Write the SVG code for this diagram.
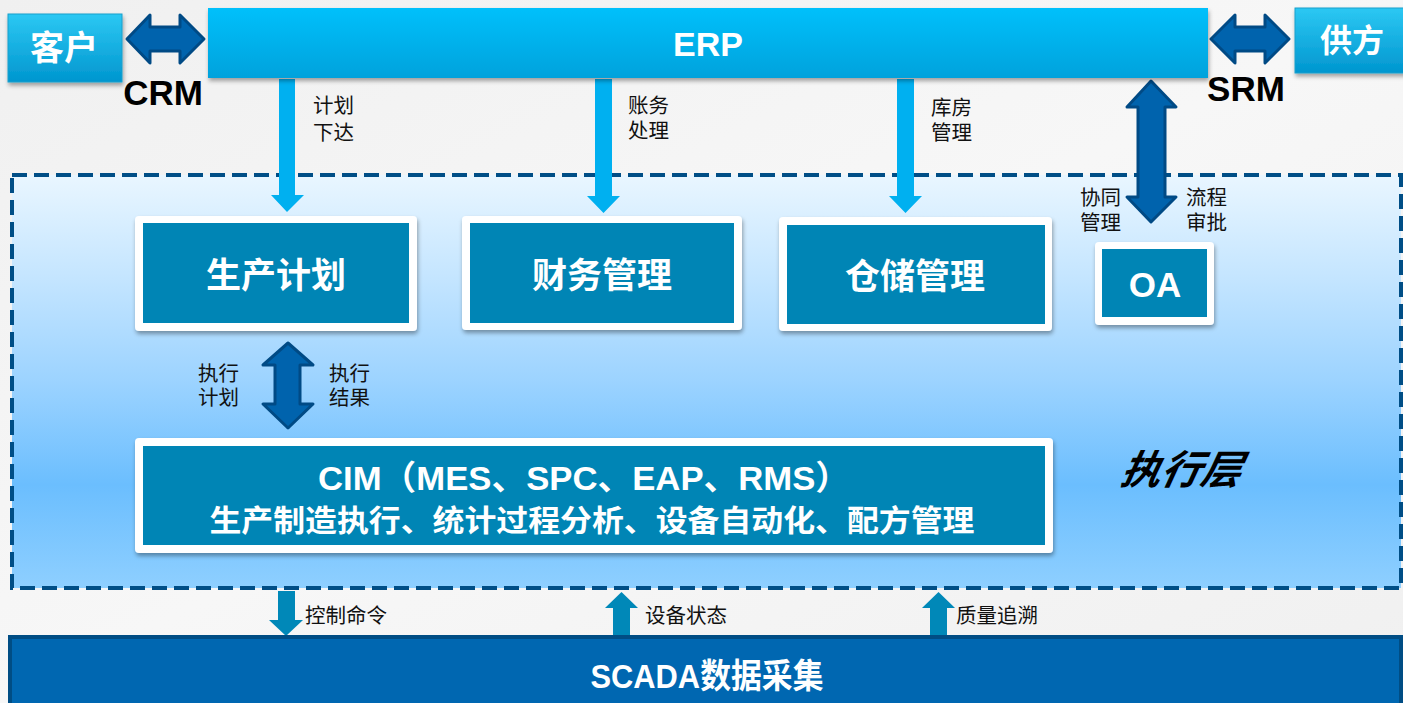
<svg xmlns="http://www.w3.org/2000/svg" width="1403" height="703" viewBox="0 0 1403 703">
<defs>
<linearGradient id="bg" x1="0" y1="0" x2="1" y2="1">
<stop offset="0" stop-color="#f0f0f0"/><stop offset="0.5" stop-color="#f7f7f7"/><stop offset="1" stop-color="#f0f0f0"/>
</linearGradient>
<linearGradient id="erp" x1="0" y1="0" x2="0" y2="1">
<stop offset="0" stop-color="#00c0fb"/><stop offset="1" stop-color="#00a2dc"/>
</linearGradient>
<linearGradient id="side" x1="0" y1="0" x2="0" y2="1">
<stop offset="0" stop-color="#2cc8f3"/><stop offset="1" stop-color="#0096cf"/>
</linearGradient>
<linearGradient id="layer" x1="0" y1="0" x2="0" y2="1">
<stop offset="0" stop-color="#e9f6ff"/><stop offset="0.25" stop-color="#c4e5ff"/><stop offset="0.5" stop-color="#9cd3ff"/><stop offset="0.75" stop-color="#6bbefe"/><stop offset="1" stop-color="#8ecfff"/>
</linearGradient>
<filter id="sh" x="-10%" y="-10%" width="120%" height="130%">
<feDropShadow dx="1" dy="3" stdDeviation="2" flood-color="#000" flood-opacity="0.35"/>
</filter>
</defs>
<style>
.lbl{font-family:"Liberation Sans","Noto Sans CJK SC",sans-serif;font-size:20.5px;fill:#111}
.mod{font-family:"Liberation Sans","Noto Sans CJK SC",sans-serif;font-weight:bold;fill:#fff;text-anchor:middle}
.big{font-family:"Liberation Sans","Noto Sans CJK SC",sans-serif;font-weight:bold;fill:#000;text-anchor:middle;font-size:35px}
.outer{fill:#fff}
.inner{fill:#0085b5}
.dbl{fill:#0063ad;stroke:#004a85;stroke-width:3;stroke-linejoin:round}
.down{fill:#00b0f0}
.bot{fill:#0088b8}
</style>
<rect width="1403" height="703" fill="url(#bg)"/>

<g id="layer-box">
<rect x="12" y="175" width="1389" height="413" fill="url(#layer)" stroke="#004e86" stroke-width="4" stroke-dasharray="15 7"/>
<text x="1182" y="484" font-family="'Noto Sans CJK SC',sans-serif" font-size="40" font-style="italic" font-weight="bold" fill="#000" text-anchor="middle" transform="skewX(-12)" transform-origin="1182 470">执行层</text>
</g>

<g id="connectors">
<polygon class="down" points="279,79 295,79 295,195 304,195 287,212 271,195 279,195"/>
<polygon class="down" points="595,79 612,79 612,196 620,196 603.5,213 587,196 595,196"/>
<polygon class="down" points="897,79 914,79 914,196 922,196 905.5,213 889,196 897,196"/>
<polygon class="dbl" points="127,39 150,15 150,27 180,27 180,15 204,39 180,63 180,51 150,51 150,63"/>
<polygon class="dbl" points="1211,39 1235,15 1235,27 1265,27 1265,15 1289,39 1265,63 1265,51 1235,51 1235,63"/>
<polygon class="dbl" points="1151,81 1176,107 1165,107 1165,197 1176,197 1151,222 1127,197 1138,197 1138,107 1127,107"/>
<polygon class="dbl" points="288,343 313,365 300,365 300,404 313,404 288,428 263,404 275,404 275,365 263,365"/>
<polygon class="bot" points="278,591 295,591 295,620 303,620 286,636 269,620 278,620"/>
<polygon class="bot" points="613,636 630,636 630,608 638,608 621.5,592 605,608 613,608"/>
<polygon class="bot" points="930,636 947,636 947,608 955,608 938.5,592 922,608 930,608"/>
<text class="lbl"><tspan x="313" y="113">计划</tspan><tspan x="313" y="140">下达</tspan></text>
<text class="lbl"><tspan x="628" y="113">账务</tspan><tspan x="628" y="138">处理</tspan></text>
<text class="lbl"><tspan x="931" y="115">库房</tspan><tspan x="931" y="140">管理</tspan></text>
<text class="lbl"><tspan x="1080" y="205">协同</tspan><tspan x="1080" y="230">管理</tspan></text>
<text class="lbl"><tspan x="1186" y="205">流程</tspan><tspan x="1186" y="230">审批</tspan></text>
<text class="lbl"><tspan x="198" y="381">执行</tspan><tspan x="198" y="405">计划</tspan></text>
<text class="lbl"><tspan x="329" y="381">执行</tspan><tspan x="329" y="405">结果</tspan></text>
<text class="lbl" x="305" y="623">控制命令</text>
<text class="lbl" x="645" y="623">设备状态</text>
<text class="lbl" x="956" y="623">质量追溯</text>
<text class="big" x="163" y="105">CRM</text>
<text class="big" x="1246" y="101">SRM</text>
</g>

<g id="customer">
<rect x="8" y="14" width="114" height="68" fill="url(#side)" stroke="#1a9fcc" stroke-width="1" filter="url(#sh)"/>
<text class="mod" x="64" y="60" font-size="34">客户</text>
</g>
<g id="supplier">
<rect x="1295" y="8" width="112" height="65" fill="url(#side)" stroke="#1a9fcc" stroke-width="1" filter="url(#sh)"/>
<text class="mod" x="1352" y="52" font-size="32">供方</text>
</g>
<g id="erp-node">
<rect x="208" y="8" width="1000" height="70" fill="url(#erp)" filter="url(#sh)"/>
<text class="mod" x="708" y="56" font-size="34">ERP</text>
</g>

<g id="plan">
<rect class="outer" x="135" y="216" width="282" height="115" rx="4" filter="url(#sh)"/>
<rect class="inner" x="143" y="223" width="266" height="100"/>
<text class="mod" x="276" y="288" font-size="35">生产计划</text>
</g>
<g id="finance">
<rect class="outer" x="462" y="216" width="280" height="114" rx="4" filter="url(#sh)"/>
<rect class="inner" x="470" y="223" width="264" height="100"/>
<text class="mod" x="602" y="288" font-size="35">财务管理</text>
</g>
<g id="warehouse">
<rect class="outer" x="779" y="217" width="273" height="114" rx="4" filter="url(#sh)"/>
<rect class="inner" x="787" y="225" width="258" height="99"/>
<text class="mod" x="915" y="289" font-size="35">仓储管理</text>
</g>
<g id="oa">
<rect class="outer" x="1095" y="242" width="119" height="83" rx="4" filter="url(#sh)"/>
<rect class="inner" x="1102" y="249" width="105" height="68"/>
<text class="mod" x="1155" y="297" font-size="35">OA</text>
</g>
<g id="cim">
<rect class="outer" x="135" y="438" width="918" height="115" rx="4" filter="url(#sh)"/>
<rect class="inner" x="143" y="446" width="902" height="99"/>
<text class="mod" x="584" y="490" font-size="34" textLength="532" lengthAdjust="spacingAndGlyphs">CIM（MES、SPC、EAP、RMS）</text>
<text class="mod" x="592" y="531" font-size="30" textLength="765" lengthAdjust="spacingAndGlyphs">生产制造执行、统计过程分析、设备自动化、配方管理</text>
</g>
<g id="scada">
<rect x="10" y="637" width="1391" height="70" fill="#0067b1" stroke="#004d84" stroke-width="4"/>
<text class="mod" x="707" y="688" font-size="34" textLength="233" lengthAdjust="spacingAndGlyphs">SCADA数据采集</text>
</g>
</svg>
